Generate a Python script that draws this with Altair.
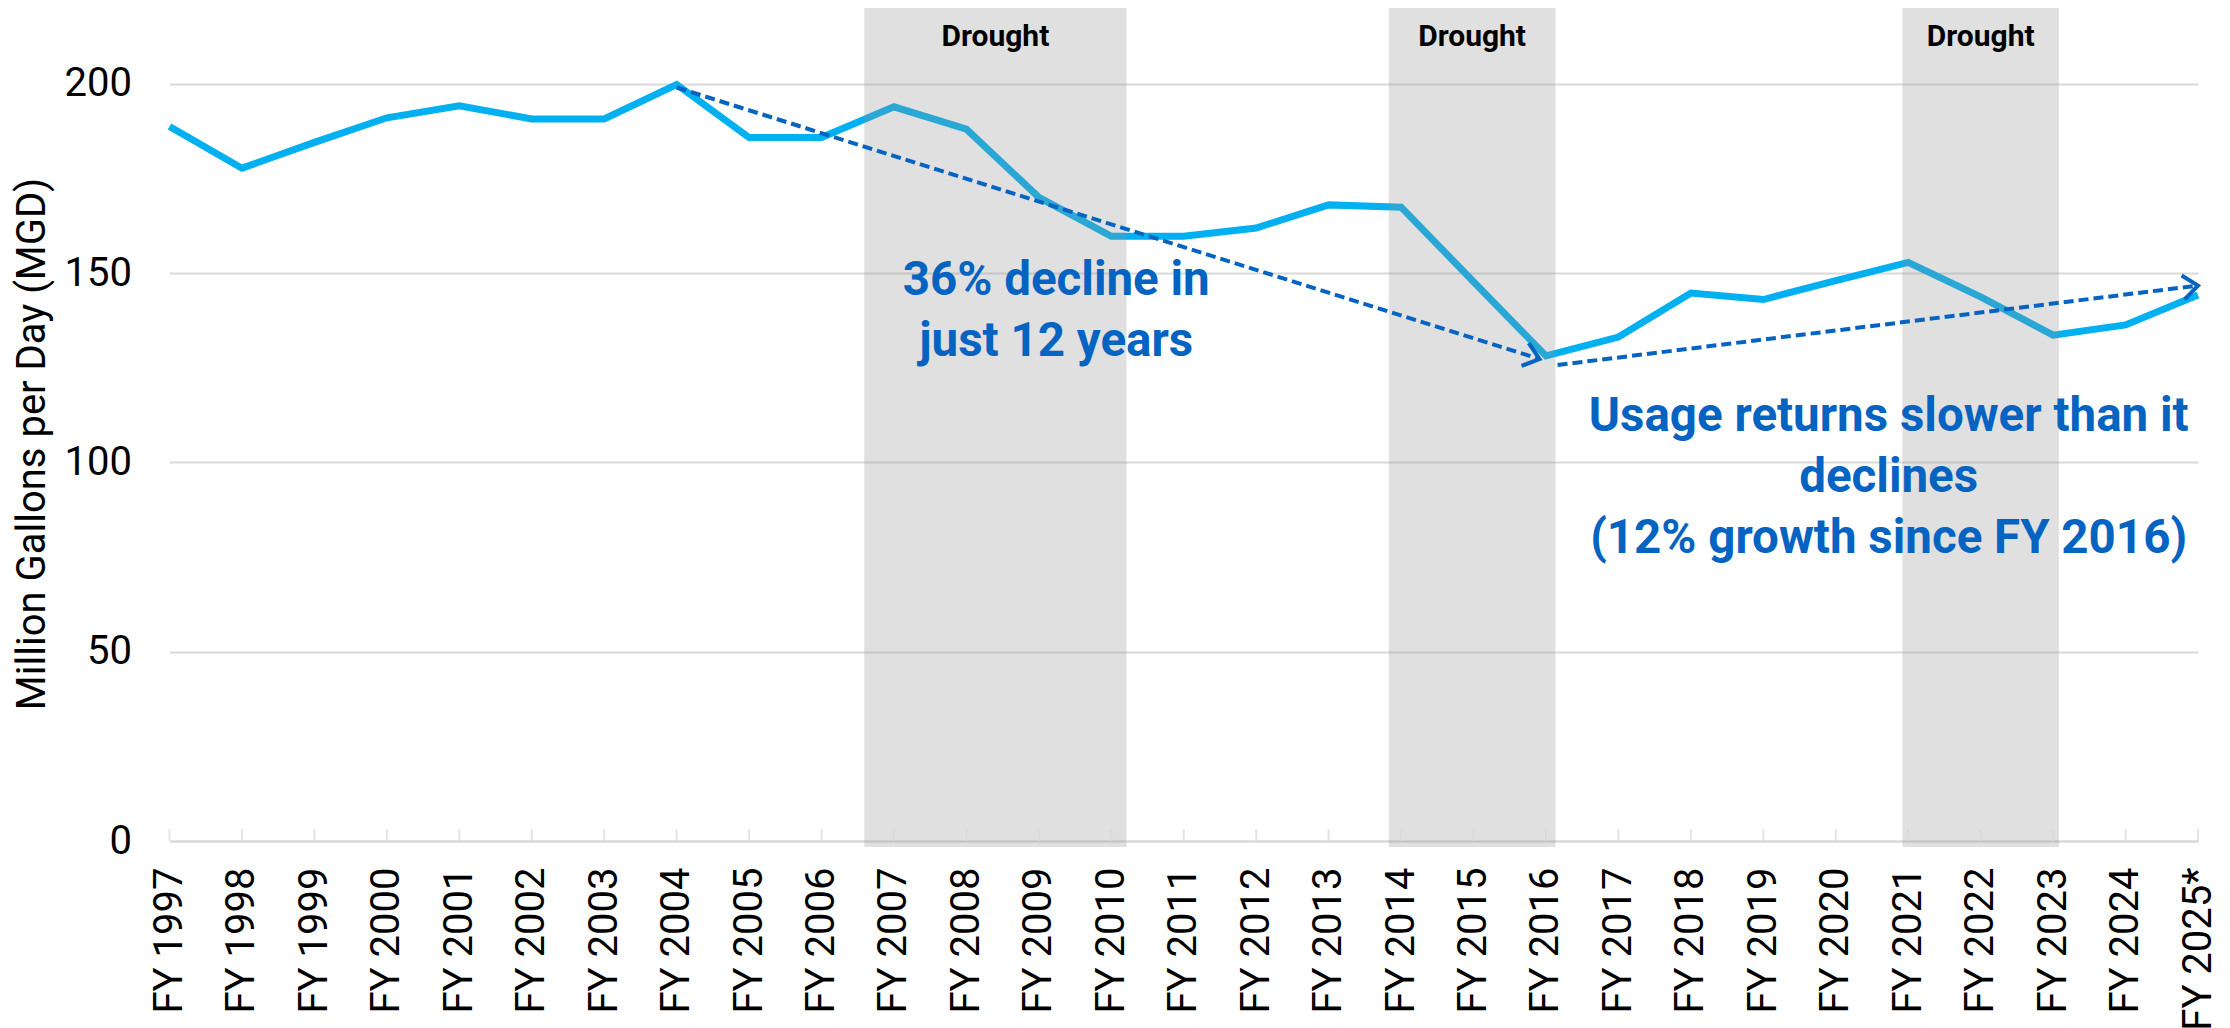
import math
import altair as alt
import pandas as pd

# ---------------- data ----------------
years = list(range(1997, 2026))
fy_labels = ["FY %d" % y for y in range(1997, 2025)] + ["FY 2025*"]
mgd = [188.7, 177.7, 184.5, 191.0, 194.2, 190.7, 190.7, 199.8, 185.8, 185.8,
       193.9, 188.0, 170.0, 159.7, 159.7, 161.9, 168.0, 167.4, 147.7, 128.1,
       133.1, 144.7, 143.0, 148.0, 152.8, 143.7, 133.6, 136.3, 144.2]
y_ticks = [0, 50, 100, 150, 200]

drought_start = [2006.59, 2013.83, 2020.92]
drought_end = [2010.21, 2016.13, 2023.08]
drought_top = [220, 220, 220]
drought_bottom = [0, 0, 0]
drought_label = ["Drought", "Drought", "Drought"]
drought_label_y = [212.4, 212.4, 212.4]

arrow_x1 = [2004.0, 2016.16]
arrow_y1 = [199.0, 125.7]
arrow_x2 = [2015.91, 2025.0]
arrow_y2 = [127.3, 146.7]

note_text = ["36% decline in\njust 12 years",
             "Usage returns slower than it\ndeclines\n(12% growth since FY 2016)"]
note_x = [2009.24, 2020.73]
note_y = [147.8, 112.0]

# ---------------- layout ----------------
W, H = 2028.5, 833
X_DOM = [1997, 2025]
Y_DOM = [0, 220]
FONT = "Roboto"
LINE_COLOR = "#00B0F0"
NOTE_COLOR = "#0563C1"
GRID = "#D9D9D9"

xs = alt.Scale(domain=X_DOM, nice=False, zero=False)
ys = alt.Scale(domain=Y_DOM, nice=False, zero=False)

label_js = "[" + ",".join("'%s'" % s for s in fy_labels) + "]"

df = pd.DataFrame({"year": years, "mgd": mgd, "base": [0] * len(years)})
droughts = pd.DataFrame({"x1": drought_start, "x2": drought_end,
                         "top": drought_top, "bot": drought_bottom,
                         "label": drought_label, "ly": drought_label_y})
segs = []
for i in range(len(arrow_x1)):
    segs.append({"id": i, "ord": 0, "x": arrow_x1[i], "y": arrow_y1[i]})
    segs.append({"id": i, "ord": 1, "x": arrow_x2[i], "y": arrow_y2[i]})
arrows = pd.DataFrame(segs)

ppy = W / (X_DOM[1] - X_DOM[0])
ppu = H / (Y_DOM[1] - Y_DOM[0])
heads = []
for i in range(len(arrow_x1)):
    dx = (arrow_x2[i] - arrow_x1[i]) * ppy
    dy = -(arrow_y2[i] - arrow_y1[i]) * ppu
    ang = math.degrees(math.atan2(dy, dx)) % 360
    heads.append({"x": arrow_x2[i], "y": arrow_y2[i], "ang": ang})
heads = pd.DataFrame(heads)
notes = pd.DataFrame({"text": note_text, "x": note_x, "y": note_y})

x_axis = alt.Axis(values=years, labelExpr=label_js + "[datum.value - 1997]",
                  title=None, grid=False, ticks=False, tickSize=0,
                  domainColor=GRID, domainWidth=2,
                  labelAngle=270, labelAlign="right", labelBaseline="middle",
                  labelPadding=26, labelFont=FONT, labelFontSize=40,
                  labelColor="#000000", labelOverlap=False, labelBound=False,
                  labelFlush=False)
y_axis = alt.Axis(values=y_ticks, title="Million Gallons per Day (MGD)",
                  grid=True, gridColor=GRID, gridWidth=2, domain=False,
                  ticks=False, tickSize=0, labelPadding=38, labelFont=FONT,
                  labelFontSize=40, labelColor="#000000",
                  titleFont=FONT, titleFontSize=40, titleFontWeight="normal",
                  titleColor="#000000", titleAngle=270, titleBaseline="middle",
                  titleAlign="center", titleX=-137, titleY=435.5)


def X(field):
    return alt.X(field, scale=xs, axis=x_axis)


def Y(field):
    return alt.Y(field, scale=ys, axis=y_axis)


line = alt.Chart(df).mark_line(color=LINE_COLOR, strokeWidth=7, strokeJoin="miter",
                               strokeCap="butt").encode(
    x=X("year:Q"), y=Y("mgd:Q"))

ticks = alt.Chart(df).mark_tick(orient="vertical", size=12, thickness=2,
                                color=GRID, yOffset=-6).encode(
    x=X("year:Q"), y=Y("base:Q"))

shade = alt.Chart(droughts).mark_rect(color="#939393", opacity=0.286,
                                      y2Offset=6).encode(
    x=X("x1:Q"), x2="x2:Q", y=Y("top:Q"), y2="bot:Q")

shade_lbl = alt.Chart(droughts).transform_calculate(
    xm="(datum.x1 + datum.x2) / 2").mark_text(
    font=FONT, fontSize=30, fontWeight="bold", color="#000000",
    align="center", baseline="middle").encode(
    x=X("xm:Q"), y=Y("ly:Q"), text="label:N")

arrow_lines = alt.Chart(arrows).mark_line(color=NOTE_COLOR, strokeWidth=4,
                                          strokeDash=[10, 5]).encode(
    x=X("x:Q"), y=Y("y:Q"), detail="id:N", order="ord:Q")

arrow_heads = alt.Chart(heads).mark_point(
    shape="M -1 -0.8 L 0 0 L -1 0.8", filled=False, size=900,
    stroke=NOTE_COLOR, strokeWidth=4, opacity=1).encode(
    x=X("x:Q"), y=Y("y:Q"), angle=alt.Angle("ang:Q", scale=None))

note = alt.Chart(notes).mark_text(
    font=FONT, fontSize=47.5, fontWeight="bold", color=NOTE_COLOR,
    align="center", baseline="middle", lineBreak="\n", lineHeight=61).encode(
    x=X("x:Q"), y=Y("y:Q"), text="text:N")

chart = alt.layer(line, shade, ticks, arrow_lines, arrow_heads, note, shade_lbl).properties(
    width=W, height=H,
    background="#ffffff",
    autosize=alt.AutoSizeParams(type="none"),
    padding={"left": 161.5, "top": 0, "right": 20, "bottom": 187},
).configure_view(strokeWidth=0)

chart.save("out.html", embed_options={"renderer": "svg", "actions": False})
